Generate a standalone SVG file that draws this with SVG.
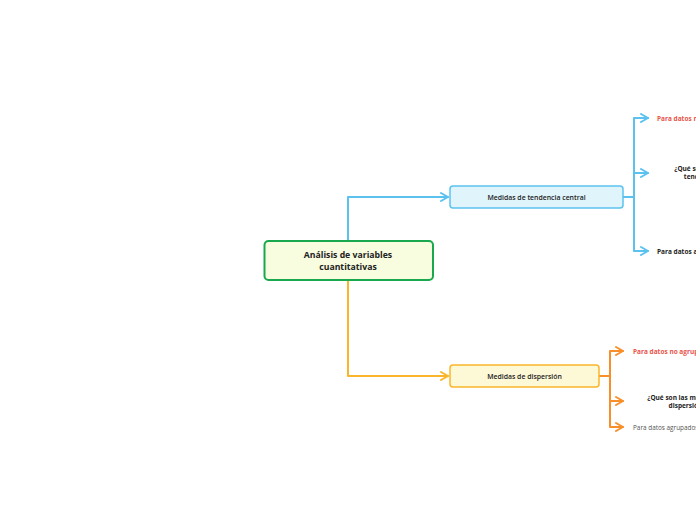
<svg xmlns="http://www.w3.org/2000/svg" width="696" height="520" viewBox="0 0 696 520">
<defs>
<style>
text{font-family:"Open Sans","Liberation Sans",sans-serif;}
.root{font-size:8.7px;font-weight:700;fill:#222;text-anchor:middle;}
.main{font-size:6.9px;font-weight:600;fill:#222;text-anchor:middle;}
.leaf{font-size:6.5px;font-weight:700;fill:#222;}
.red{fill:#e8534a;}
.gray{font-weight:400;fill:#555;font-size:6.4px;}
.blue{stroke:#5bc2ef;stroke-width:2;fill:none;stroke-linecap:round;stroke-linejoin:round;}
.yel{stroke:#f9b62a;stroke-width:2;fill:none;stroke-linecap:round;stroke-linejoin:round;}
.org{stroke:#f7902a;stroke-width:2;fill:none;stroke-linecap:round;stroke-linejoin:round;}
</style>
</defs>
<rect width="696" height="520" fill="#fff"/>
<g id="connectors">
<path class="blue" d="M348,241 V197 H448"/>
<path class="blue" d="M441,193 L448,197 L441,201"/>
<path class="yel" d="M348,280 V376 H448"/>
<path class="yel" d="M441,372 L448,376 L441,380"/>
<path class="blue" d="M623,197 H634 M634,118 V251 M634,118 H648 M634,173 H648 M634,251 H648"/>
<path class="blue" d="M641,114 L648,118 L641,122 M641,169 L648,173 L641,177 M641,247 L648,251 L641,255"/>
<path class="org" d="M599,376 H610 M610,351 V427 M610,351 H623 M610,401 H623 M610,427 H623"/>
<path class="org" d="M616,347 L623,351 L616,355 M616,397 L623,401 L616,405 M616,423 L623,427 L616,431"/>
</g>
<g id="root">
<rect x="264.5" y="241" width="168.5" height="39" rx="4" fill="#f8fde0" stroke="#1aa84f" stroke-width="2"/>
<text class="root" x="348" y="258">Análisis de variables</text>
<text class="root" x="348" y="270">cuantitativas</text>
</g>
<g id="tendencia">
<rect x="450" y="186" width="173" height="22" rx="3" fill="#e0f4fc" stroke="#5bc2ef" stroke-width="1.5"/>
<text class="main" x="536.5" y="199.5">Medidas de tendencia central</text>
</g>
<g id="dispersion">
<rect x="450" y="365" width="149" height="22" rx="3" fill="#fdf8d6" stroke="#f9b62a" stroke-width="1.5"/>
<text class="main" x="524.5" y="378.5">Medidas de dispersión</text>
</g>
<g id="t-noagrup">
<text class="leaf red" x="657" y="120.5">Para datos no agrupados</text>
</g>
<g id="t-que">
<text class="leaf" x="714" y="171" text-anchor="middle">¿Qué son las medidas de</text>
<text class="leaf" x="714" y="179" text-anchor="middle">tendencia central?</text>
</g>
<g id="t-agrup">
<text class="leaf" x="657" y="254">Para datos agrupados</text>
</g>
<g id="d-noagrup">
<text class="leaf red" x="633" y="353.5">Para datos no agrupados</text>
</g>
<g id="d-que">
<text class="leaf" x="687" y="400" text-anchor="middle">¿Qué son las medidas de</text>
<text class="leaf" x="687" y="408" text-anchor="middle">dispersión?</text>
</g>
<g id="d-agrup">
<text class="leaf gray" x="633" y="430">Para datos agrupados</text>
</g>
</svg>
